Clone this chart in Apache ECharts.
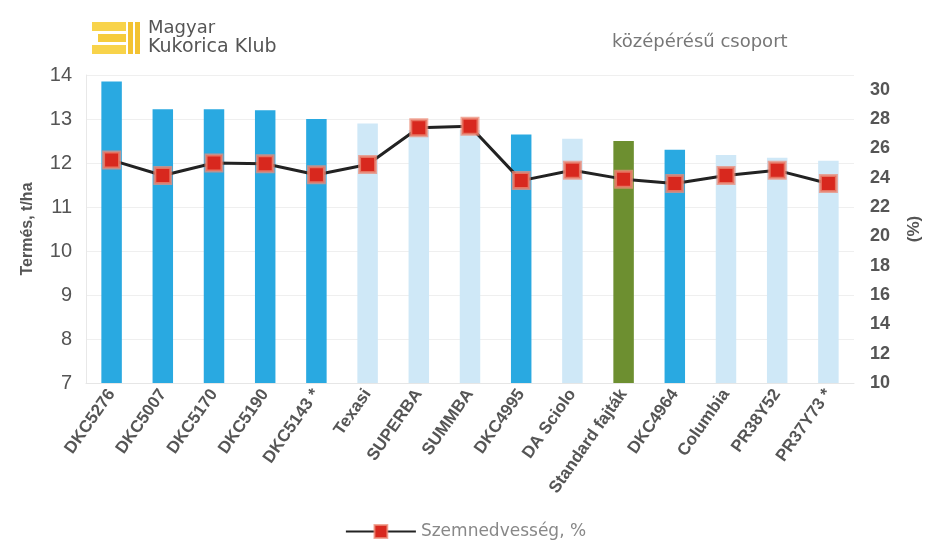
<!DOCTYPE html>
<html>
<head>
<meta charset="utf-8">
<script src="https://cdn.jsdelivr.net/npm/echarts@6/dist/echarts.min.js"></script>
<style>html,body{margin:0;padding:0;background:#fff;}#c{width:931px;height:545px;}</style>
</head>
<body>
<div id="c"></div>
<script>
const categories = ["DKC5276","DKC5007","DKC5170","DKC5190","DKC5143 *","Texasi","SUPERBA","SUMMBA","DKC4995","DA Sciolo","Standard fajták","DKC4964","Columbia","PR38Y52","PR37Y73 *"];
const yieldValues = [13.85,13.22,13.22,13.2,13.0,12.9,12.75,12.75,12.65,12.55,12.5,12.3,12.18,12.12,12.05];
const barGroups = ["dark","dark","dark","dark","dark","light","light","light","dark","light","std","dark","light","light","light"];
const moistureValues = [25.2,24.15,25.0,24.95,24.2,24.9,27.4,27.5,23.8,24.5,23.9,23.6,24.15,24.5,23.6];
const leftTicks = {min:7,max:14,interval:1};
const rightTicks = {min:10,max:31,interval:2};

const groupColor = {dark:'#29a9e1', light:'#cfe8f7', std:'#6d8f30'};

const chart = echarts.init(document.getElementById('c'));
chart.setOption({
  animation:false,
  backgroundColor:'#fff',
  grid:{left:86,right:75,top:75,bottom:162},
  legend:{
    bottom:0,left:'center',
    itemWidth:70,itemHeight:16,itemGap:10,
    textStyle:{color:'#888',fontSize:17,fontFamily:'DejaVu Sans'},
    data:[{name:'Szemnedvesség, %'}]
  },
  graphic:[
    {type:'rect',shape:{x:92,y:22,width:34,height:9},style:{fill:'#f8d34a'}},
    {type:'rect',shape:{x:98,y:34,width:28,height:8},style:{fill:'#f6cc3c'}},
    {type:'rect',shape:{x:92,y:45,width:34,height:9},style:{fill:'#f8d34a'}},
    {type:'rect',shape:{x:128,y:22,width:5,height:32},style:{fill:'#f3c232'}},
    {type:'rect',shape:{x:135,y:22,width:5,height:32},style:{fill:'#f3c232'}},
    {type:'text',left:148,top:19,style:{text:'Magyar',fill:'#555',font:'18px DejaVu Sans'}},
    {type:'text',left:148,top:38,style:{text:'Kukorica Klub',fill:'#555',font:'19px DejaVu Sans'}},
    {type:'text',left:612,top:33,style:{text:'középérésű csoport',fill:'#777',font:'18px DejaVu Sans'}}
  ],
  xAxis:{
    type:'category',data:categories,
    axisLine:{show:true,lineStyle:{color:'#e6e6e6'}},
    axisTick:{show:false},
    axisLabel:{rotate:55,interval:0,color:'#555',fontSize:17,fontWeight:'bold',fontFamily:'Liberation Sans',margin:8}
  },
  yAxis:[
    {type:'value',min:leftTicks.min,max:leftTicks.max,interval:leftTicks.interval,
     name:'Termés, t/ha',nameLocation:'middle',nameGap:50,nameRotate:90,
     nameTextStyle:{color:'#555',fontSize:16,fontWeight:'bold',fontFamily:'Liberation Sans'},
     axisLine:{show:true,lineStyle:{color:'#e8e8e8'}},axisTick:{show:false},
     axisLabel:{color:'#555',fontSize:20,fontFamily:'Liberation Sans',margin:14},
     splitLine:{show:true,lineStyle:{color:'#efefef'}}},
    {type:'value',min:rightTicks.min,max:rightTicks.max,interval:rightTicks.interval,position:'right',
     name:'(%)',nameLocation:'middle',nameGap:52,nameRotate:90,
     nameTextStyle:{color:'#555',fontSize:17,fontWeight:'bold',fontFamily:'Liberation Sans'},
     axisLine:{show:false},axisTick:{show:false},
     axisLabel:{color:'#555',fontSize:18,fontWeight:'bold',fontFamily:'Liberation Sans',margin:16,showMaxLabel:false},
     splitLine:{show:false}}
  ],
  series:[
    {type:'bar',name:'Termés',yAxisIndex:0,barWidth:'40%',
     data:yieldValues.map((v,i)=>({value:v,itemStyle:{color:groupColor[barGroups[i]]}}))},
    {type:'line',name:'Szemnedvesség, %',yAxisIndex:1,data:moistureValues,
     symbol:'rect',symbolSize:16,
     lineStyle:{color:'#222',width:3},
     itemStyle:{color:'#d8281e',borderColor:'rgba(236,140,120,0.75)',borderWidth:3}}
  ]
});
</script>
</body>
</html>
